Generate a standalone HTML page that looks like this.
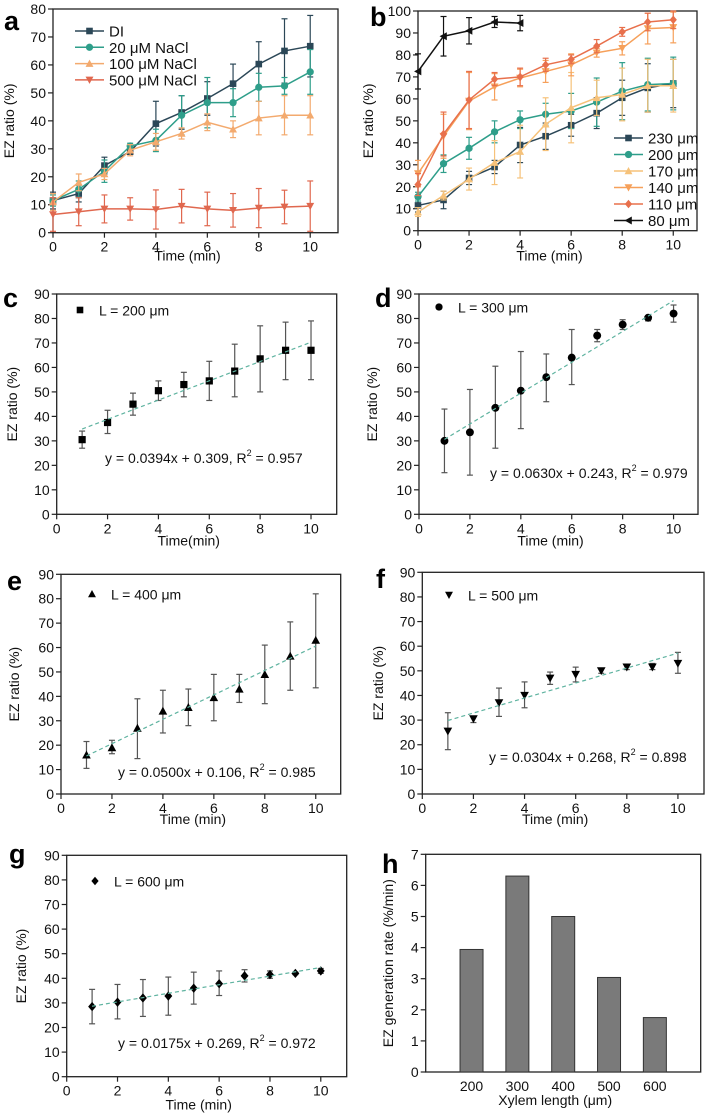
<!DOCTYPE html>
<html><head><meta charset="utf-8"><style>
html,body{margin:0;padding:0;background:#fff;}
svg{display:block;font-family:"Liberation Sans",Arial,sans-serif;}
</style></head><body>
<svg id="fig" width="708" height="1117" viewBox="0 0 708 1117" xmlns="http://www.w3.org/2000/svg"></svg>
<script>
// ---------- Panel a data ----------
const aTime=[0,1,2,3,4,5,6,7,8,9,10];
const aDI=[11.5,14,24,29,39,43,48,53.3,60.3,65,66.7];
const aDIerr=[3,3,3,1,8,6,6,7,8,11.5,11];
const a20=[11.5,15.5,22,31,33,42,46.5,46.5,52,52.5,57.5];
const a20err=[2,3,4,1,4,7,9,5,5,3,8];
const a100=[11,18,21,29.5,32.5,35.5,39.5,37,41,42,42];
const a100err=[3,3,2,2,3,2,3,3,6,7,7];
const a500=[6.5,7.5,8.5,8.5,8.3,9.5,8.5,8,8.8,9.2,9.5];
const a500err=[6,5,5,4,7,6,6,6,7,6,9];
const aLabels=["DI","20 μM NaCl","100 μM NaCl","500 μM NaCl"];
// ---------- Panel b data ----------
const bTime=[0,1,2,3,4,5,6,7,8,9,10];
const bTime80=[0,1,2,3,4];
const b230=[11.5,14,24,29,39,43,48,53.5,60.5,65,67];
const b230err=[3,4,3,3,8,6,5,7,8,11,11];
const b200=[15.5,30.5,37.5,45,50.5,53,54.5,58.5,63.5,66.5,67];
const b200err=[2,4,5,5,4,5,8,11,13,12,12];
const b170=[8.5,16,23.5,31,36,48.5,56,60.5,62,66,66];
const b170err=[2,2,5,10,12,12,16,8,12,12,12];
const b140=[26,43,59,65.5,69.5,72.5,75.5,81,83,92,92.5];
const b140err=[6,10,13,6,4,5,5,2,3,7,7];
const b110=[21,44,59.5,69,70,75.5,78,84,90.5,95,96];
const b110err=[5,10,13,3,4,3,2,3,2,4,4];
const b80=[72.5,88.5,91,95,94.5];
const b80err=[8,9,6,2.5,3.5];
const bLabels=["230 μm","200 μm","170 μm","140 μm","110 μm","80 μm"];
// ---------- Panels c-g data ----------
const fitTime=[1,2,3,4,5,6,7,8,9,10];
const cVal=[30.5,37.5,45,50.5,53,54.5,58.5,63.5,67,67];
const cLo=[27,33,40.5,46.5,48,46.5,48,50,55,55];
const cHi=[34,42.5,49.5,54.5,58,62.5,69.5,77,78.5,79];
const cFit=[0.0394,0.309];
const dVal=[30,33.5,43.5,50.5,56,64,73,77.5,80.3,82];
const dLo=[17,16,27,35,46,53,70.5,75.5,79,78.5];
const dHi=[43,51,60.5,66.5,65.5,75.5,75.5,79.5,81,85.5];
const dFit=[0.0630,0.243];
const eVal=[16,19,27,34,35.5,39.5,43,49,56.5,63];
const eLo=[10.5,16.5,14.5,25,28,30,37.5,37,42.5,43.5];
const eHi=[21.5,22,39,42.5,43,49,49,61,70.5,82];
const eFit=[0.0500,0.106];
const fVal=[25.5,30.5,37,40,47,48.5,50,51.5,51.5,53];
const fLo=[18,29,31.5,35,44.5,45.5,49,50.5,50.5,49];
const fHi=[33,31.5,43,45.5,49.5,51.5,51,52.5,53,57.5];
const fFit=[0.0304,0.268];
const gVal=[28.5,30.3,32,32.8,36,37.8,41,41.5,42,43];
const gLo=[21.5,23.5,24.5,25,29.5,33,38.5,40,41.5,42];
const gHi=[35.5,37.5,39.5,40.5,42.5,43,43.5,43,42.5,44];
const gFit=[0.0175,0.269];
// ---------- Panel h data ----------
const hCats=["200","300","400","500","600"];
const hRates=[3.94,6.3,5.0,3.04,1.75];

const svg=document.getElementById('fig');
const NS="http://www.w3.org/2000/svg";
function el(tag,attrs,parent){const e=document.createElementNS(NS,tag);for(const k in attrs)e.setAttribute(k,attrs[k]);(parent||svg).appendChild(e);return e;}
function txt(s,x,y,size,anchor,parent,extra){const t=el('text',Object.assign({x:x,y:y,'font-size':size,'text-anchor':anchor||'start',fill:'#111'},extra||{}),parent);t.textContent=s;return t;}

function axes(name,box,xmax,xticks,ymax,ystep,ytitle,xtitle,titleDy){
  const g=el('g',{});
  
  
  const sx=v=>box.x0+(v/xmax)*(box.x1-box.x0);
  const sy=v=>box.y0-(v/ymax)*(box.y0-box.y1);
  const fr=el('rect',{x:box.x0,y:box.y1,width:box.x1-box.x0,height:box.y0-box.y1,fill:'none',stroke:'#222','stroke-width':1.3},g);
  
  
  for(let v=0;v<=ymax+1e-9;v+=ystep){
    const y=sy(v);
    el('line',{x1:box.x0-5,x2:box.x0,y1:y,y2:y,stroke:'#222','stroke-width':1.2},g);
    const t=txt(String(Math.round(v*10)/10),box.x0-7,y+5,14,'end',g);
    
    
  }
  xticks.forEach(tk=>{
    const x=sx(tk.v);
    el('line',{x1:x,x2:x,y1:box.y0,y2:box.y0+5,stroke:'#222','stroke-width':1.2},g);
    const t=txt(tk.l,x,box.y0+19,14,'middle',g);
    
    
  });
  const xt=txt(xtitle,(box.x0+box.x1)/2-8,box.y0+(titleDy||31),14,'middle',g);
  
  
  const ym=(box.y0+box.y1)/2;
  const yt=txt(ytitle,box.yt,ym,14,'middle',g,{transform:'rotate(-90 '+box.yt+' '+ym+')'});
  
  
  return {g,sx,sy};
}
function marker(type,x,y,s,color,parent){
  let m;
  if(type==='sq') m=el('rect',{x:x-s,y:y-s,width:2*s,height:2*s,fill:color},parent);
  else if(type==='ci') m=el('circle',{cx:x,cy:y,r:s*1.1,fill:color},parent);
  else if(type==='up') m=el('polygon',{points:`${x},${y-s*1.2} ${x-s*1.2},${y+s} ${x+s*1.2},${y+s}`,fill:color},parent);
  else if(type==='dn') m=el('polygon',{points:`${x},${y+s*1.2} ${x-s*1.2},${y-s} ${x+s*1.2},${y-s}`,fill:color},parent);
  else if(type==='di') m=el('polygon',{points:`${x},${y-s*1.3} ${x+s*1.1},${y} ${x},${y+s*1.3} ${x-s*1.1},${y}`,fill:color},parent);
  else if(type==='lt') m=el('polygon',{points:`${x-s*1.2},${y} ${x+s},${y-s*1.2} ${x+s},${y+s*1.2}`,fill:color},parent);
  return m;
}
function errbar(x,lo,hi,color,parent){
  el('line',{x1:x,x2:x,y1:lo,y2:hi,stroke:color,'stroke-width':1.2},parent);
  el('line',{x1:x-3,x2:x+3,y1:lo,y2:lo,stroke:color,'stroke-width':1.2},parent);
  el('line',{x1:x-3,x2:x+3,y1:hi,y2:hi,stroke:color,'stroke-width':1.2},parent);
}
function series(ax,name,xs,ys,errs,color,mtype,errColor){
  const g=el('g',{},ax.g);
  
  
  xs.forEach((x,i)=>errbar(ax.sx(x),ax.sy(ys[i]-errs[i]),ax.sy(ys[i]+errs[i]),errColor||color,g));
  el('polyline',{points:xs.map((x,i)=>ax.sx(x)+','+ax.sy(ys[i])).join(' '),fill:'none',stroke:color,'stroke-width':1.5},g);
  xs.forEach((x,i)=>marker(mtype,ax.sx(x),ax.sy(ys[i]),3.3,color,g));
}
function legend(ax,name,labels,colors,types,x,y0,dy){
  const g=el('g',{},ax.g);
  
  
  labels.forEach((l,i)=>{
    const y=y0+i*dy;
    el('line',{x1:x,x2:x+29,y1:y,y2:y,stroke:colors[i],'stroke-width':1.5},g);
    marker(types[i],x+14.5,y,3.3,colors[i],g);
    const t=txt(l,x+34,y+5.5,15,'start',g);
    
    
  });
}
function letter(s,x,y){const t=txt(s,x,y,27,'start',svg,{'font-weight':'bold',fill:'#000'});}

const xt10=[0,2,4,6,8,10].map(v=>({v:v,l:String(v)}));

// ----- Panel a -----
const A=axes('panel-a',{x0:53,x1:338,y0:232.7,y1:9,yt:14},11.08,xt10,80,10,'EZ ratio (%)','Time (min)',28);
const cA=['#2b4757','#2e9e8a','#f3aa6e','#e0684f'];
series(A,'series-di',aTime,aDI,aDIerr,cA[0],'sq');
series(A,'series-20um',aTime,a20,a20err,cA[1],'ci');
series(A,'series-100um',aTime,a100,a100err,cA[2],'up');
series(A,'series-500um',aTime,a500,a500err,cA[3],'dn');
legend(A,'legend-a',aLabels,cA,['sq','ci','up','dn'],75,31,16.3);
letter('a',4,30);

// ----- Panel b -----
const B=axes('panel-b',{x0:418,x1:697,y0:230.7,y1:11,yt:373},10.93,xt10,100,10,'EZ ratio (%)','Time (min)',30);
const cB=['#2b4757','#2e9e8a','#f6c27a','#f6a05a','#e8704c','#111'];
series(B,'series-230um',bTime,b230,b230err,cB[0],'sq');
series(B,'series-200um',bTime,b200,b200err,cB[1],'ci');
series(B,'series-170um',bTime,b170,b170err,cB[2],'up');
series(B,'series-140um',bTime,b140,b140err,cB[3],'dn');
series(B,'series-110um',bTime,b110,b110err,cB[4],'di');
series(B,'series-80um',bTime80,b80,b80err,cB[5],'lt');
legend(B,'legend-b',bLabels,cB,['sq','ci','up','dn','di','lt'],614,138,16.5);
letter('b',370,26);

// ----- Fit panels -----
function fitPanel(id,box,xmax,vals,lo,hi,fit,mtype,lab,legXY,eqXY,xtitle,titleDy){
  const P=axes('panel-'+id,box,xmax,xt10,90,10,'EZ ratio (%)',xtitle,titleDy);
  const g=el('g',{},P.g);
  
  
  fitTime.forEach((x,i)=>errbar(P.sx(x),P.sy(lo[i]),P.sy(hi[i]),'#555',g));
  const f=el('line',{x1:P.sx(fitTime[0]),y1:P.sy((fit[0]*fitTime[0]+fit[1])*100),x2:P.sx(fitTime[fitTime.length-1]),y2:P.sy((fit[0]*fitTime[fitTime.length-1]+fit[1])*100),stroke:'#5fb3a0','stroke-width':1.2,'stroke-dasharray':'4,3'},P.g);
  
  
  fitTime.forEach((x,i)=>marker(mtype,P.sx(x),P.sy(vals[i]),3.6,'#000',g));
  marker(mtype,legXY[0],legXY[1],3.3,'#000',P.g);
  const lt=txt(lab,legXY[0]+19,legXY[1]+5.5,14,'start',P.g);
  
  
  const eq=el('text',{x:eqXY[0],y:eqXY[1]+5,'font-size':14,fill:'#111'},P.g);
  
  
  const s1=(fit[0]).toFixed(4), s2=(fit[1]).toFixed(3);
  eq.innerHTML='y = '+s1+'x + '+s2+', R<tspan font-size="9" dy="-7">2</tspan><tspan dy="7"> = '+({c:'0.957',d:'0.979',e:'0.985',f:'0.898',g:'0.972'})[id]+'</tspan>';
  return P;
}
fitPanel('c',{x0:56.7,x1:336.7,y0:514.3,y1:294,yt:17},11.01,cVal,cLo,cHi,cFit,'sq','L = 200 μm',[80,310],[105,458],'Time(min)',31);
letter('c',3,307);
fitPanel('d',{x0:419,x1:698,y0:514.3,y1:294,yt:377},10.96,dVal,dLo,dHi,dFit,'ci','L = 300 μm',[439,307],[490,473],'Time (min)',31);
letter('d',375,307);
fitPanel('e',{x0:61,x1:340.7,y0:794,y1:574.3,yt:19},10.98,eVal,eLo,eHi,eFit,'up','L = 400 μm',[92,594],[118,772],'Time (min)',30);
letter('e',7,590);
fitPanel('f',{x0:422.3,x1:704,y0:794,y1:572.3,yt:383},11.02,fVal,fLo,fHi,fFit,'dn','L = 500 μm',[449,595],[489,757],'Time (min)',30);
letter('f',376,588);
fitPanel('g',{x0:66.7,x1:346.7,y0:1076.7,y1:855.3,yt:26},11.02,gVal,gLo,gHi,gFit,'di','L = 600 μm',[95,881],[118,1043],'Time (min)',33);
letter('g',9,863);

// ----- Panel h -----
const H=axes('panel-h',{x0:425.7,x1:700.7,y0:1072,y1:854.3,yt:393},6,[],7,1,'EZ generation rate (%/min)','Xylem length (μm)',33);
const hg=el('g',{},H.g);


hCats.forEach((c,i)=>{
  const cx=H.sx(i+1);
  const r=el('rect',{x:cx-11.5,y:H.sy(hRates[i]),width:23,height:H.sy(0)-H.sy(hRates[i]),fill:'#7a7a7a',stroke:'#333','stroke-width':1},hg);
  
  
  const t=txt(c,cx,1091,14,'middle',H.g);
  
  
});
letter('h',382,873);
</script>
</body></html>
